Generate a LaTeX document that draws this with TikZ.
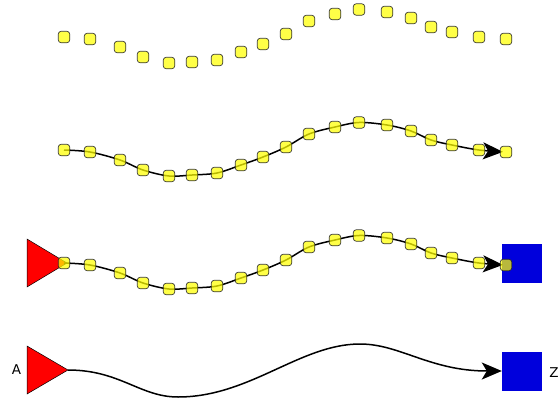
\documentclass[tikz,border=0pt]{standalone}
\usepackage{fontspec}
\setmainfont{DejaVu Sans}
\usetikzlibrary{arrows.meta}
\definecolor{dotyellow}{RGB}{255,255,0}
\definecolor{boxblue}{RGB}{0,0,220}
\definecolor{trired}{RGB}{255,0,0}
\tikzset{
  bendpt/.style={rectangle, rounded corners=3pt, minimum size=11.5pt, inner sep=0pt,
    draw=black!85, line width=0.7pt, fill=dotyellow, fill opacity=0.72, draw opacity=0.9},
  arr/.style={line width=1.5pt, -{Stealth[length=20pt, width=17pt, inset=5pt]}},
  target/.style={rectangle, fill=boxblue, minimum width=40pt, minimum height=39pt, inner sep=0pt},
  tri/.style={fill=trired, draw=black, line width=0.5pt},
  lbl/.style={font=\fontsize{13.5}{15}\selectfont, inner sep=0pt}
}
\def\pts{64/37,90/39,120/47,143/57,169/63,192/62,217/60,241/52,263/44,286/34,309/21,335/14,359/9.5,387/12,411/18,431/27,452/32,479/37,506/39}
\begin{document}
\begin{tikzpicture}[x=1pt,y=-1pt]
\useasboundingbox (0,0) rectangle (558,402);
% row 1: bend points only
\foreach [count=\i] \x/\y in \pts {\node[bendpt] (a\i) at (\x,\y) {};}
% row 2: curve through bend points
\begin{scope}[yshift=-113pt]
\foreach [count=\i] \x/\y in \pts {\coordinate (b\i) at (\x,\y);}
\end{scope}
\draw[arr, shorten >=3pt] plot[smooth, tension=0.55] coordinates {(b1) (b2) (b3) (b4) (b5) (b6) (b7) (b8) (b9) (b10) (b11) (b12) (b13) (b14) (b15) (b16) (b17) (b18) (b19)};
\foreach \i in {1,...,19} {\node[bendpt] (bd\i) at (b\i) {};}
% row 3: triangle, box, curve with bend points
\draw[tri] (27,239) -- (67,263) -- (27,287) -- cycle;
\coordinate (T3) at (67,263);
\node[target] (Z3) at (522,263.5) {};
\begin{scope}[yshift=-226pt]
\foreach [count=\i] \x/\y in \pts {\coordinate (c\i) at (\x,\y);}
\end{scope}
\draw[arr, shorten >=3pt] plot[smooth, tension=0.55] coordinates {(c1) (c2) (c3) (c4) (c5) (c6) (c7) (c8) (c9) (c10) (c11) (c12) (c13) (c14) (c15) (c16) (c17) (c18) (c19)};
\foreach \i in {1,...,19} {\node[bendpt] (cd\i) at (c\i) {};}
% row 4: triangle, box, smooth curve
\draw[tri] (27,346) -- (68,370) -- (27,394) -- cycle;
\coordinate (T4) at (68,370);
\node[target] (Z4) at (522,371) {};
\node[lbl] (la) at (16.5,369.5) {A};
\node[lbl] (lz) at (554,372.5) {Z};
\draw[arr] (T4) .. controls (120,370) and (140,397) .. (178,397)
  .. controls (250,397) and (300,344) .. (360,344)
  .. controls (400,344) and (430,371) .. (Z4.west);
\end{tikzpicture}
\end{document}
